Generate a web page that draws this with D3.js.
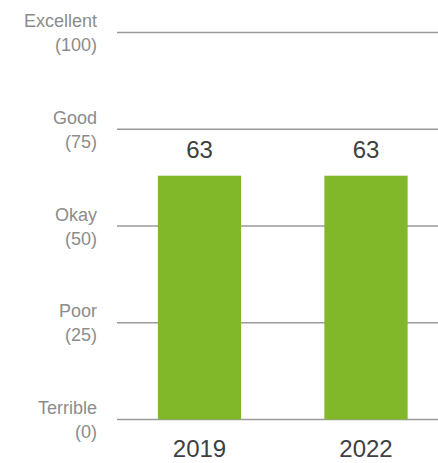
<!DOCTYPE html>
<html><head><meta charset="utf-8">
<script src="https://cdn.jsdelivr.net/npm/d3@7"></script>
<style>body{margin:0;background:#fff}svg{display:block;font-family:"Liberation Sans",Arial,sans-serif}</style>
</head><body>
<script>
const categories = ["2019", "2022"];
const values = [63, 63];
const tickValues = [0, 25, 50, 75, 100];
const tickNames = ["Terrible", "Poor", "Okay", "Good", "Excellent"];

const W = 438, H = 463;
const svg = d3.select("body").append("svg").attr("width", W).attr("height", H);

const y = d3.scaleLinear().domain([0, 100]).range([419.5, 32.5]);
const x = d3.scaleBand().domain(categories).range([116.25, 449.25]).paddingInner(0.5).paddingOuter(0.25);

// gridlines
svg.append("g").selectAll("line").data(tickValues).join("line")
  .attr("x1", 117).attr("x2", W)
  .attr("y1", d => y(d)).attr("y2", d => y(d))
  .attr("stroke", "#9a9a9a").attr("stroke-width", 1.5);

// y labels
const lab = svg.append("g").selectAll("text").data(tickValues).join("text")
  .attr("text-anchor", "end").attr("fill", "#8c8c8c").attr("font-size", 18);
lab.append("tspan").attr("x", 97).attr("y", d => y(d) - 5.5).text((d, i) => tickNames[i]);
lab.append("tspan").attr("x", 97).attr("y", d => y(d) + 18.5).text(d => "(" + d + ")");

// bars
svg.append("g").selectAll("rect").data(values).join("rect")
  .attr("x", (d, i) => x(categories[i]))
  .attr("width", x.bandwidth())
  .attr("y", d => y(d))
  .attr("height", d => y(0) - y(d))
  .attr("fill", "#80b82a");

// value labels
svg.append("g").selectAll("text").data(values).join("text")
  .attr("x", (d, i) => x(categories[i]) + x.bandwidth() / 2)
  .attr("y", d => y(d) - 18)
  .attr("text-anchor", "middle").attr("fill", "#404040").attr("font-size", 24)
  .text(d => d);

// x labels
svg.append("g").selectAll("text").data(categories).join("text")
  .attr("x", d => x(d) + x.bandwidth() / 2)
  .attr("y", 457)
  .attr("text-anchor", "middle").attr("fill", "#404040").attr("font-size", 24)
  .text(d => d);
</script>
</body></html>
